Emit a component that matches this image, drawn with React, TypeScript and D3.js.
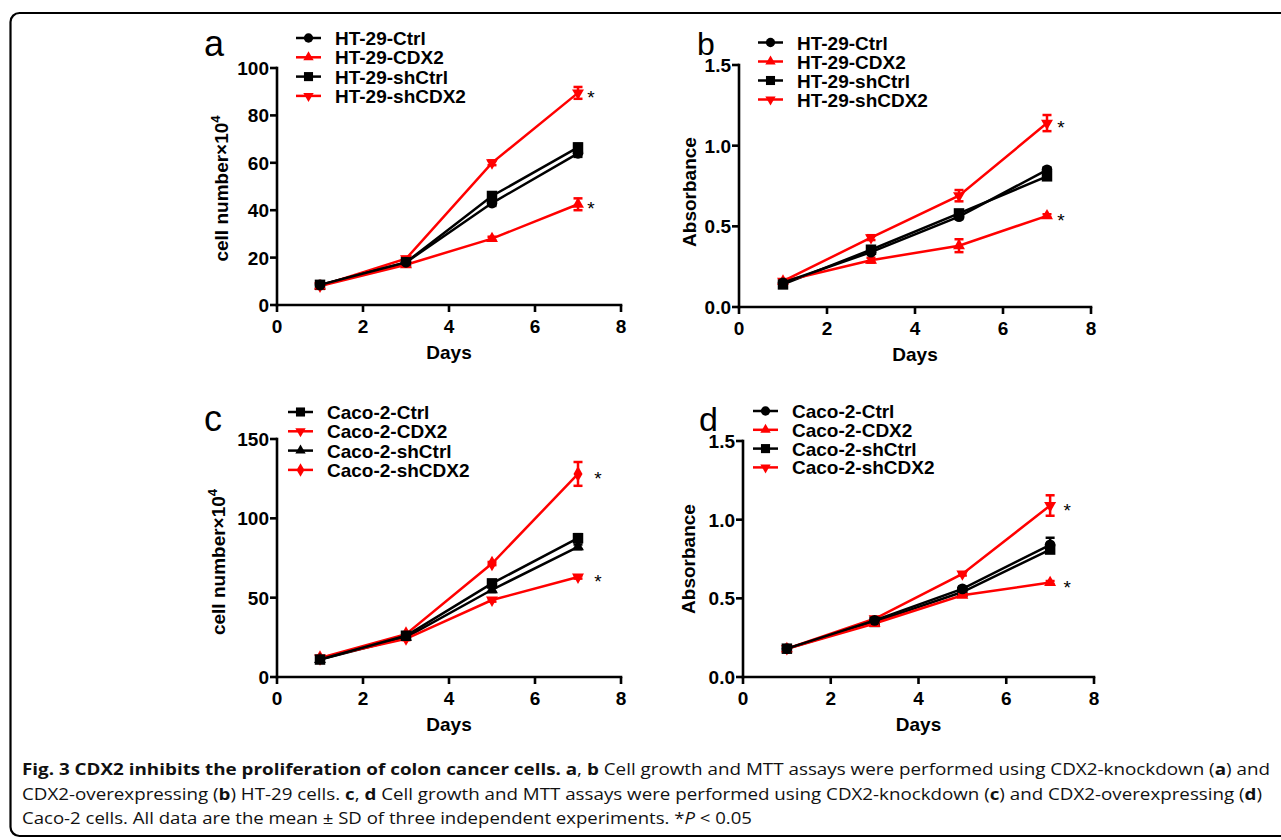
import React from "react";
import * as d3 from "d3";

// ---------- data ----------
const days = [1, 3, 5, 7];
const xTicks = [0, 2, 4, 6, 8];

const htNames = ["HT-29-Ctrl", "HT-29-CDX2", "HT-29-shCtrl", "HT-29-shCDX2"];
const cacoNames = ["Caco-2-Ctrl", "Caco-2-CDX2", "Caco-2-shCtrl", "Caco-2-shCDX2"];

// panel a: cell number x10^4
const aCtrl = [8.5, 18, 43, 64];
const aCDX2 = [8, 17, 28, 42.5];
const aShCtrl = [8.5, 18, 46, 66.5];
const aShCDX2 = [8, 19.5, 60, 89.5];
const aCtrlErr = [0.5, 0.8, 1.2, 1.5];
const aCDX2Err = [0.5, 0.6, 0.8, 2.5];
const aShCtrlErr = [0.5, 0.8, 1.2, 1.5];
const aShCDX2Err = [0.5, 0.8, 1, 2.5];
const aYTicks = [0, 20, 40, 60, 80, 100];

// panel b: absorbance
const bCtrl = [0.15, 0.34, 0.56, 0.85];
const bCDX2 = [0.16, 0.29, 0.38, 0.565];
const bShCtrl = [0.14, 0.355, 0.58, 0.81];
const bShCDX2 = [0.16, 0.43, 0.69, 1.14];
const bCtrlErr = [0.01, 0.01, 0.015, 0.015];
const bCDX2Err = [0.01, 0.015, 0.04, 0.01];
const bShCtrlErr = [0.01, 0.02, 0.015, 0.015];
const bShCDX2Err = [0.01, 0.015, 0.035, 0.05];
const bYTicks = [0, 0.5, 1.0, 1.5];

// panel c: cell number x10^4
const cCtrl = [11, 26, 59, 87.5];
const cCDX2 = [12, 24, 48.5, 63];
const cShCtrl = [11, 25, 55, 82];
const cShCDX2 = [12, 27, 71.5, 128];
const cCtrlErr = [0.5, 1, 2, 2.5];
const cCDX2Err = [0.5, 0.8, 1, 1];
const cShCtrlErr = [0.5, 1, 1.5, 1.5];
const cShCDX2Err = [0.5, 0.8, 1, 7.5];
const cYTicks = [0, 50, 100, 150];

// panel d: absorbance
const dCtrl = [0.18, 0.36, 0.56, 0.84];
const dCDX2 = [0.18, 0.34, 0.52, 0.6];
const dShCtrl = [0.18, 0.35, 0.54, 0.81];
const dShCDX2 = [0.18, 0.37, 0.655, 1.09];
const dCtrlErr = [0.01, 0.01, 0.015, 0.045];
const dCDX2Err = [0.01, 0.01, 0.01, 0.01];
const dShCtrlErr = [0.01, 0.01, 0.015, 0.02];
const dShCDX2Err = [0.01, 0.01, 0.01, 0.065];
const dYTicks = [0, 0.5, 1.0, 1.5];

const RED = "#ff0000";
const BLACK = "#000000";

type Sym = "circle" | "triangleUp" | "square" | "triangleDown" | "diamond";

interface Panel {
  letter: string;
  letterX: number;
  letterY: number;
  letterSize: number;
  names: string[];
  series: number[][];
  errs: number[][];
  colors: string[];
  symbols: Sym[];
  yMax: number;
  yTicks: number[];
  yFmt: (v: number) => string;
  yLabel: string;
  sup: boolean;
  yLabelX: number;
  yLabelDy: number;
  xL: number;
  xR: number;
  yB: number;
  yT: number;
  legX: number;
  legY: number;
  legDy: number;
  legTextX: number;
  starOffset: number;
  stars: number[];
}

const intFmt = (v: number) => String(v);
const decFmt = d3.format(".1f");

const panels: Panel[] = [
  {
    letter: "a", letterX: 204, letterY: 56, letterSize: 36,
    names: htNames,
    series: [aCtrl, aCDX2, aShCtrl, aShCDX2],
    errs: [aCtrlErr, aCDX2Err, aShCtrlErr, aShCDX2Err],
    colors: [BLACK, RED, BLACK, RED],
    symbols: ["circle", "triangleUp", "square", "triangleDown"],
    yMax: 100, yTicks: aYTicks, yFmt: intFmt,
    yLabel: "cell number×10", sup: true, yLabelX: 228, yLabelDy: 2,
    xL: 277, xR: 621, yB: 305, yT: 68,
    legX: 296, legY: 38, legDy: 19.3, legTextX: 335,
    starOffset: 13, stars: [3, 1],
  },
  {
    letter: "b", letterX: 697, letterY: 55, letterSize: 32,
    names: htNames,
    series: [bCtrl, bCDX2, bShCtrl, bShCDX2],
    errs: [bCtrlErr, bCDX2Err, bShCtrlErr, bShCDX2Err],
    colors: [BLACK, RED, BLACK, RED],
    symbols: ["circle", "triangleUp", "square", "triangleDown"],
    yMax: 1.5, yTicks: bYTicks, yFmt: decFmt,
    yLabel: "Absorbance", sup: false, yLabelX: 696, yLabelDy: 6,
    xL: 739, xR: 1091, yB: 307, yT: 65,
    legX: 758, legY: 42.5, legDy: 19, legTextX: 797,
    starOffset: 14, stars: [3, 1],
  },
  {
    letter: "c", letterX: 204, letterY: 431, letterSize: 36,
    names: cacoNames,
    series: [cCtrl, cCDX2, cShCtrl, cShCDX2],
    errs: [cCtrlErr, cCDX2Err, cShCtrlErr, cShCDX2Err],
    colors: [BLACK, RED, BLACK, RED],
    symbols: ["square", "triangleDown", "triangleUp", "diamond"],
    yMax: 150, yTicks: cYTicks, yFmt: intFmt,
    yLabel: "cell number×10", sup: true, yLabelX: 225, yLabelDy: 4,
    xL: 277, xR: 621, yB: 677, yT: 439,
    legX: 288, legY: 412, legDy: 19.3, legTextX: 327,
    starOffset: 20, stars: [3, 1],
  },
  {
    letter: "d", letterX: 699, letterY: 431, letterSize: 34,
    names: cacoNames,
    series: [dCtrl, dCDX2, dShCtrl, dShCDX2],
    errs: [dCtrlErr, dCDX2Err, dShCtrlErr, dShCDX2Err],
    colors: [BLACK, RED, BLACK, RED],
    symbols: ["circle", "triangleUp", "square", "triangleDown"],
    yMax: 1.5, yTicks: dYTicks, yFmt: decFmt,
    yLabel: "Absorbance", sup: false, yLabelX: 695, yLabelDy: 0,
    xL: 743, xR: 1094, yB: 677, yT: 441,
    legX: 753, legY: 411, legDy: 18.8, legTextX: 792,
    starOffset: 17, stars: [3, 1],
  },
];

// caption segments
type Seg = { t: string; b?: boolean; i?: boolean };
const captionLines: Seg[][] = [
  [
    { t: "Fig. 3 CDX2 inhibits the proliferation of colon cancer cells. a", b: true },
    { t: ", " },
    { t: "b", b: true },
    { t: " Cell growth and MTT assays were performed using CDX2-knockdown (" },
    { t: "a", b: true },
    { t: ") and" },
  ],
  [
    { t: "CDX2-overexpressing (" },
    { t: "b", b: true },
    { t: ") HT-29 cells. " },
    { t: "c", b: true },
    { t: ", " },
    { t: "d", b: true },
    { t: " Cell growth and MTT assays were performed using CDX2-knockdown (" },
    { t: "c", b: true },
    { t: ") and CDX2-overexpressing (" },
    { t: "d", b: true },
    { t: ")" },
  ],
  [
    { t: "Caco-2 cells. All data are the mean ± SD of three independent experiments. *" },
    { t: "P", i: true },
    { t: " < 0.05" },
  ],
];
const captionWidths = [1248, 1240, 730];

// ---------- helpers ----------
const FONT = "'Liberation Sans', Arial, Helvetica, sans-serif";
const CAP_FONT = "'Open Sans', 'Liberation Sans', sans-serif";

function symPath(sym: Sym, scale: number): { d: string; rot: number } {
  switch (sym) {
    case "circle":
      return { d: d3.symbol().type(d3.symbolCircle).size(90 * scale)()!, rot: 0 };
    case "square":
      return { d: d3.symbol().type(d3.symbolSquare).size(110 * scale)()!, rot: 0 };
    case "triangleUp":
      return { d: d3.symbol().type(d3.symbolTriangle).size(62 * scale)()!, rot: 0 };
    case "triangleDown":
      return { d: d3.symbol().type(d3.symbolTriangle).size(62 * scale)()!, rot: 180 };
    case "diamond":
      return { d: d3.symbol().type(d3.symbolDiamond).size(70 * scale)()!, rot: 0 };
  }
}

function PanelView({ p }: { p: Panel }) {
  const x = d3.scaleLinear().domain([0, 8]).range([p.xL, p.xR]);
  const y = d3.scaleLinear().domain([0, p.yMax]).range([p.yB, p.yT]);
  const line = d3
    .line<number>()
    .x((_, i) => x(days[i]))
    .y((v) => y(v));
  const order = [3, 2, 1, 0];
  const axisW = 2.6;
  const tickLen = 7;
  const midY = (p.yB + p.yT) / 2 + p.yLabelDy;
  return (
    <g>
      <text x={p.letterX} y={p.letterY} fontFamily={FONT} fontSize={p.letterSize} fill="#000">
        {p.letter}
      </text>
      {/* axes */}
      <line x1={p.xL} x2={p.xR} y1={p.yB} y2={p.yB} stroke="#000" strokeWidth={axisW} strokeLinecap="square" />
      <line x1={p.xL} x2={p.xL} y1={p.yB} y2={p.yT} stroke="#000" strokeWidth={axisW} strokeLinecap="square" />
      {xTicks.map((t) => (
        <g key={"x" + t}>
          <line x1={x(t)} x2={x(t)} y1={p.yB} y2={p.yB + tickLen} stroke="#000" strokeWidth={axisW} />
          <text x={x(t)} y={p.yB + 28} textAnchor="middle" fontFamily={FONT} fontWeight="bold" fontSize={19}>
            {t}
          </text>
        </g>
      ))}
      {p.yTicks.map((t) => (
        <g key={"y" + t}>
          <line x1={p.xL - tickLen} x2={p.xL} y1={y(t)} y2={y(t)} stroke="#000" strokeWidth={axisW} />
          <text x={p.xL - 8} y={y(t) + 7} textAnchor="end" fontFamily={FONT} fontWeight="bold" fontSize={19}>
            {p.yFmt(t)}
          </text>
        </g>
      ))}
      <text
        x={(p.xL + p.xR) / 2}
        y={p.yB + 54}
        textAnchor="middle"
        fontFamily={FONT}
        fontWeight="bold"
        fontSize={19}
      >
        Days
      </text>
      <text
        transform={`translate(${p.yLabelX},${midY}) rotate(-90)`}
        textAnchor="middle"
        fontFamily={FONT}
        fontWeight="bold"
        fontSize={19}
      >
        {p.yLabel}
        {p.sup ? (
          <tspan dy={-8} fontSize={13}>
            4
          </tspan>
        ) : null}
      </text>
      {/* series */}
      {order.map((si) => {
        const vals = p.series[si];
        const errs = p.errs[si];
        const col = p.colors[si];
        const sp = symPath(p.symbols[si], 1);
        return (
          <g key={"s" + si}>
            <path d={line(vals)!} fill="none" stroke={col} strokeWidth={2.5} />
            {vals.map((v, i) => {
              const cx = x(days[i]);
              const top = y(v + errs[i]);
              const bot = y(v - errs[i]);
              return (
                <g key={i}>
                  <line x1={cx} x2={cx} y1={top} y2={bot} stroke={col} strokeWidth={2.5} />
                  <line x1={cx - 4.5} x2={cx + 4.5} y1={top} y2={top} stroke={col} strokeWidth={2.5} />
                  <line x1={cx - 4.5} x2={cx + 4.5} y1={bot} y2={bot} stroke={col} strokeWidth={2.5} />
                  <path d={sp.d} transform={`translate(${cx},${y(v)}) rotate(${sp.rot})`} fill={col} />
                </g>
              );
            })}
          </g>
        );
      })}
      {p.stars.map((si) => (
        <text
          key={"st" + si}
          x={x(days[3]) + p.starOffset}
          y={y(p.series[si][3]) + 11}
          textAnchor="middle"
          fontFamily={FONT}
          fontSize={19}
        >
          *
        </text>
      ))}
      {/* legend */}
      {p.names.map((n, i) => {
        const ly = p.legY + i * p.legDy;
        const sp = symPath(p.symbols[i], 0.75);
        return (
          <g key={"l" + i}>
            <line x1={p.legX} x2={p.legX + 25} y1={ly} y2={ly} stroke={p.colors[i]} strokeWidth={2.5} />
            <path d={sp.d} transform={`translate(${p.legX + 12.5},${ly}) rotate(${sp.rot})`} fill={p.colors[i]} />
            <text x={p.legTextX} y={ly + 7} fontFamily={FONT} fontWeight="bold" fontSize={19}>
              {n}
            </text>
          </g>
        );
      })}
    </g>
  );
}

export default function App() {
  const W = 1281;
  const H = 840;
  return (
    <svg
      width={W}
      height={H}
      style={{ position: "absolute", left: 0, top: 0, background: "#fff" }}
    >
      <rect x={0} y={0} width={W} height={H} fill="#fff" />
      <rect x={10.5} y={13} width={W + 20} height={823} rx={9} ry={9} fill="none" stroke="#000" strokeWidth={2.2} />
      {panels.map((p) => (
        <PanelView key={p.letter} p={p} />
      ))}
      {captionLines.map((segs, li) => (
        <text
          key={"c" + li}
          x={22}
          y={775 + li * 24.5}
          fontFamily={CAP_FONT}
          fontSize={16.5}
          fill="#111"
          textLength={captionWidths[li]}
          lengthAdjust="spacingAndGlyphs"
        >
          {segs.map((s, si) => (
            <tspan key={si} fontWeight={s.b ? "bold" : "normal"} fontStyle={s.i ? "italic" : "normal"}>
              {s.t}
            </tspan>
          ))}
        </text>
      ))}
    </svg>
  );
}
